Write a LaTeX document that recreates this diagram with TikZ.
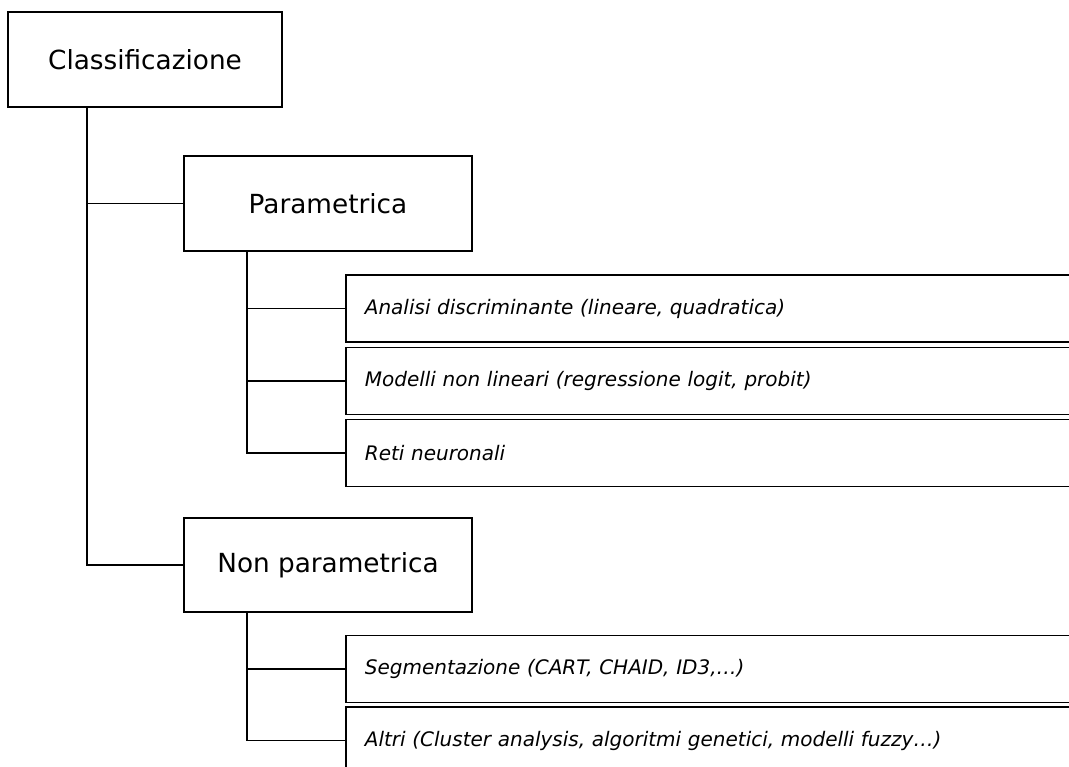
\documentclass[tikz,border=0pt]{standalone}
\usepackage{fontspec}
\setmainfont{DejaVu Sans}
\begin{document}
\begin{tikzpicture}[x=1pt,y=-1pt,
  line width=1.7pt,
  headbox/.style={draw,rectangle,inner sep=0pt,font=\fontsize{26.3}{31}\selectfont},
  leafbox/.style={draw,rectangle,anchor=west,minimum height=67pt,text width=697pt,
     inner xsep=19pt,inner ysep=0pt,align=left,font=\fontsize{20}{24}\itshape\selectfont},
  conn/.style={draw,line width=1.7pt}]
\useasboundingbox (0,0) rectangle (1069,767);
\clip (0,0) rectangle (1069,767);
\node[headbox,minimum width=274pt,minimum height=95pt] (classif) at (145,59.5) {Classificazione};
\node[headbox,minimum width=288pt,minimum height=95pt] (par) at (328,203.5) {Parametrica};
\node[headbox,minimum width=288pt,minimum height=94pt] (np) at (328,565) {Non parametrica};
\node[leafbox] (analisi) at (345,308.5) {Analisi discriminante (lineare, quadratica)};
\node[leafbox] (modelli) at (345,381) {Modelli non lineari (regressione logit, probit)};
\node[leafbox] (reti) at (345,453) {Reti neuronali};
\node[leafbox] (seg) at (345,669) {Segmentazione (CART, CHAID, ID3,…)};
\node[leafbox] (altri) at (345,740.5) {Altri (Cluster analysis, algoritmi genetici, modelli fuzzy…)};
\draw[conn] (classif.south west) ++(80,0) |- (np.west);
\draw[conn] (classif.south west) ++(80,0) |- (par.west);
\draw[conn] (par.south west) ++(64,0) |- (reti.west);
\draw[conn] (par.south west) ++(64,0) |- (modelli.west);
\draw[conn] (par.south west) ++(64,0) |- (analisi.west);
\draw[conn] (np.south west) ++(64,0) |- (altri.west);
\draw[conn] (np.south west) ++(64,0) |- (seg.west);
\end{tikzpicture}
\end{document}
